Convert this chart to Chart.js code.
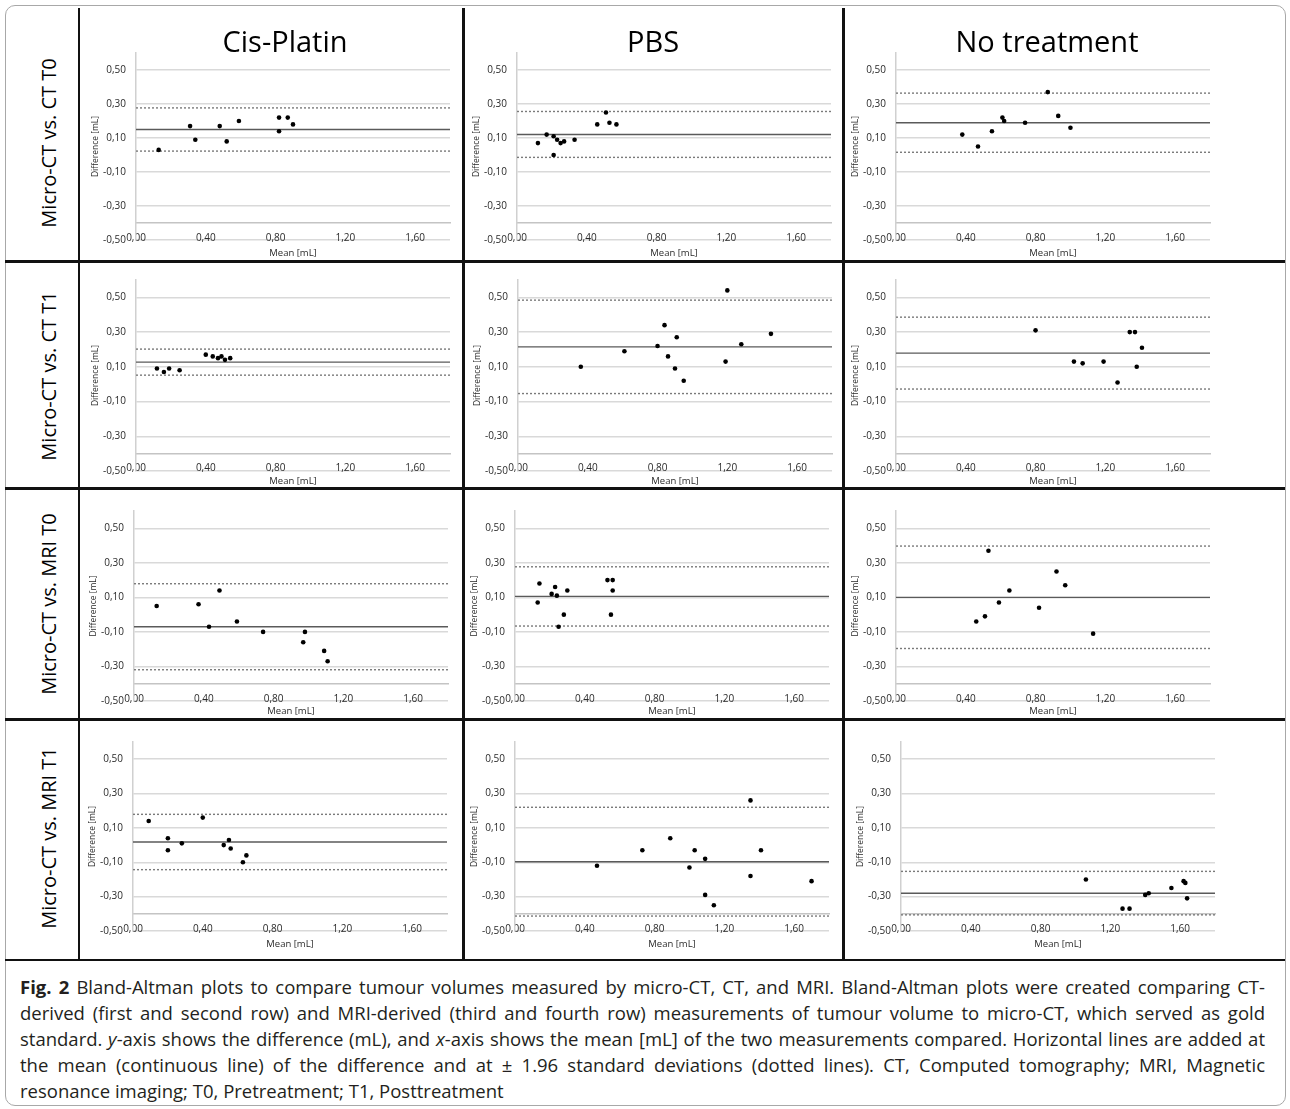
<!DOCTYPE html>
<html>
<head>
<meta charset="utf-8">
<script src="https://cdn.jsdelivr.net/npm/chart.js@4.4.1/dist/chart.umd.min.js"></script>
<style>
  body { margin: 0; background: #fff; font-family: 'Open Sans', sans-serif; }
  #fig { position: relative; width: 1290px; height: 1109px; overflow: hidden; }
  .frame { position: absolute; left: 5px; top: 5px; width: 1279px; height: 1099px; border: 1px solid #a8a8a8; border-radius: 10px; }
  .line { position: absolute; background: #111; }
  canvas { position: absolute; }
  .colhead { position: absolute; font-size: 29px; transform: translate(-50%, -50%); white-space: nowrap; color: #000; z-index: 2; }
  .rowhead { position: absolute; font-size: 20px; transform: translate(-50%, -50%) rotate(-90deg); white-space: nowrap; color: #000; }
  .caption { position: absolute; left: 20px; top: 974px; width: 1245px; font-size: 18.5px; line-height: 26px; color: #231f20; }
  .caption div { white-space: nowrap; text-align: justify; text-align-last: justify; }
  .caption div.last { text-align-last: left; }
</style>
</head>
<body>
<div id="fig">
  <div class="frame"></div>
  <div class="caption">
    <div><b>Fig. 2</b> Bland-Altman plots to compare tumour volumes measured by micro-CT, CT, and MRI. Bland-Altman plots were created comparing CT-</div>
    <div>derived (first and second row) and MRI-derived (third and fourth row) measurements of tumour volume to micro-CT, which served as gold</div>
    <div>standard. <i>y</i>-axis shows the difference (mL), and <i>x</i>-axis shows the mean [mL] of the two measurements compared. Horizontal lines are added at</div>
    <div>the mean (continuous line) of the difference and at ± 1.96 standard deviations (dotted lines). CT, Computed tomography; MRI, Magnetic</div>
    <div class="last">resonance imaging; T0, Pretreatment; T1, Posttreatment</div>
  </div>
</div>
<script>
const columns = ['Cis-Platin', 'PBS', 'No treatment'];
const rows = ['Micro-CT vs. CT T0', 'Micro-CT vs. CT T1', 'Micro-CT vs. MRI T0', 'Micro-CT vs. MRI T1'];
const xTicks = [0, 0.4, 0.8, 1.2, 1.6];
const yTicks = [-0.5, -0.3, -0.1, 0.1, 0.3, 0.5];

// micro-CT vs CT T0
const cisCtT0Mean = [0.13, 0.31, 0.34, 0.48, 0.52, 0.59, 0.82, 0.82, 0.87, 0.90];
const cisCtT0Diff = [0.03, 0.17, 0.09, 0.17, 0.08, 0.20, 0.22, 0.14, 0.22, 0.18];
const pbsCtT0Mean = [0.12, 0.17, 0.21, 0.21, 0.23, 0.25, 0.27, 0.33, 0.46, 0.51, 0.53, 0.57];
const pbsCtT0Diff = [0.07, 0.12, 0.11, 0.00, 0.09, 0.07, 0.08, 0.09, 0.18, 0.25, 0.19, 0.18];
const notCtT0Mean = [0.38, 0.47, 0.55, 0.61, 0.62, 0.74, 0.87, 0.93, 1.00];
const notCtT0Diff = [0.12, 0.05, 0.14, 0.22, 0.20, 0.19, 0.37, 0.23, 0.16];

// micro-CT vs CT T1
const cisCtT1Mean = [0.12, 0.16, 0.19, 0.25, 0.40, 0.44, 0.47, 0.49, 0.51, 0.54];
const cisCtT1Diff = [0.09, 0.07, 0.09, 0.08, 0.17, 0.16, 0.15, 0.16, 0.14, 0.15];
const pbsCtT1Mean = [0.36, 0.61, 0.80, 0.84, 0.86, 0.91, 0.90, 0.95, 1.19, 1.20, 1.28, 1.45];
const pbsCtT1Diff = [0.10, 0.19, 0.22, 0.34, 0.16, 0.27, 0.09, 0.02, 0.13, 0.54, 0.23, 0.29];
const notCtT1Mean = [0.80, 1.02, 1.07, 1.19, 1.27, 1.34, 1.37, 1.41, 1.38];
const notCtT1Diff = [0.31, 0.13, 0.12, 0.13, 0.01, 0.30, 0.30, 0.21, 0.10];

// micro-CT vs MRI T0
const cisMrT0Mean = [0.13, 0.37, 0.43, 0.49, 0.59, 0.74, 0.98, 0.97, 1.09, 1.11];
const cisMrT0Diff = [0.05, 0.06, -0.07, 0.14, -0.04, -0.10, -0.10, -0.16, -0.21, -0.27];
const pbsMrT0Mean = [0.13, 0.14, 0.21, 0.23, 0.24, 0.25, 0.28, 0.30, 0.53, 0.56, 0.56, 0.55];
const pbsMrT0Diff = [0.07, 0.18, 0.12, 0.16, 0.11, -0.07, 0.00, 0.14, 0.20, 0.20, 0.14, 0.00];
const notMrT0Mean = [0.46, 0.51, 0.53, 0.59, 0.65, 0.82, 0.92, 0.97, 1.13];
const notMrT0Diff = [-0.04, -0.01, 0.37, 0.07, 0.14, 0.04, 0.25, 0.17, -0.11];

// micro-CT vs MRI T1
const cisMrT1Mean = [0.09, 0.20, 0.20, 0.28, 0.40, 0.52, 0.55, 0.56, 0.65, 0.63];
const cisMrT1Diff = [0.14, 0.04, -0.03, 0.01, 0.16, 0.00, 0.03, -0.02, -0.06, -0.10];
const pbsMrT1Mean = [0.47, 0.73, 0.89, 1.03, 1.09, 1.00, 1.09, 1.14, 1.35, 1.35, 1.41, 1.70];
const pbsMrT1Diff = [-0.12, -0.03, 0.04, -0.03, -0.08, -0.13, -0.29, -0.35, 0.26, -0.18, -0.03, -0.21];
const notMrT1Mean = [1.06, 1.27, 1.31, 1.40, 1.42, 1.55, 1.62, 1.63, 1.64];
const notMrT1Diff = [-0.20, -0.37, -0.37, -0.29, -0.28, -0.25, -0.21, -0.22, -0.31];

// bias (mean difference) and limits of agreement, row by row
const biasMean = [0.150, 0.121, 0.190, 0.127, 0.215, 0.179, -0.070, 0.106, 0.100, 0.018, -0.097, -0.280];
const loaUpper = [0.277, 0.256, 0.364, 0.202, 0.484, 0.386, 0.179, 0.277, 0.397, 0.179, 0.220, -0.153];
const loaLower = [0.023, -0.014, 0.016, 0.052, -0.054, -0.028, -0.319, -0.066, -0.196, -0.143, -0.413, -0.406];

const panels = [
  [cisCtT0Mean, cisCtT0Diff], [pbsCtT0Mean, pbsCtT0Diff], [notCtT0Mean, notCtT0Diff],
  [cisCtT1Mean, cisCtT1Diff], [pbsCtT1Mean, pbsCtT1Diff], [notCtT1Mean, notCtT1Diff],
  [cisMrT0Mean, cisMrT0Diff], [pbsMrT0Mean, pbsMrT0Diff], [notMrT0Mean, notMrT0Diff],
  [cisMrT1Mean, cisMrT1Diff], [pbsMrT1Mean, pbsMrT1Diff], [notMrT1Mean, notMrT1Diff]
];

// layout of the grid
const plotLeft = [[136, 517, 896], [136, 518, 896], [134, 515, 896], [133, 515, 901]];
const plotTop = [42.5, 270, 500.5, 732];
const plotBottom = [240, 471, 701, 931.5];
const titleShift = [-5, -8, -8, -5];
const plotWidth = 314;
const headX = [285, 653, 1047];
const rowLabelY = [143, 376, 604, 838];

const fig = document.getElementById('fig');
const fmt = v => Number(v).toFixed(2).replace('.', ',');

function addLine(x, y, w, h) {
  const d = document.createElement('div');
  d.className = 'line';
  Object.assign(d.style, { left: x + 'px', top: y + 'px', width: w + 'px', height: h + 'px' });
  fig.appendChild(d);
}
addLine(78, 8, 1.5, 952);
addLine(462, 8, 3, 952);
addLine(842, 8, 3, 952);
[259.5, 487, 717.5].forEach(y => addLine(5, y, 1280, 3));
addLine(5, 959, 1280, 1.5);

columns.forEach((t, c) => {
  const d = document.createElement('div');
  d.className = 'colhead';
  d.textContent = t;
  d.style.left = headX[c] + 'px';
  d.style.top = '40px';
  fig.appendChild(d);
});
rows.forEach((t, r) => {
  const d = document.createElement('div');
  d.className = 'rowhead';
  d.textContent = t;
  d.style.left = '48px';
  d.style.top = rowLabelY[r] + 'px';
  fig.appendChild(d);
});

Chart.defaults.font.family = "'Open Sans', sans-serif";
Chart.defaults.color = '#2a2a2a';

const hline = (v, color, dash) => ({
  data: [{ x: 0, y: v }, { x: 1.8, y: v }],
  showLine: true,
  borderColor: color,
  borderWidth: 1.4,
  borderDash: dash,
  pointRadius: 0
});

panels.forEach(([means, diffs], i) => {
  const r = Math.floor(i / 3), c = i % 3;
  const left = plotLeft[r][c], top = plotTop[r], bottom = plotBottom[r];
  const cv = document.createElement('canvas');
  const padL = 60, padT = 6, padR = 6, padB = 30;
  cv.width = plotWidth + padL + padR;
  cv.height = bottom - top + padT + padB;
  cv.style.left = (left - padL) + 'px';
  cv.style.top = (top - padT) + 'px';
  fig.appendChild(cv);

  new Chart(cv, {
    type: 'scatter',
    data: {
      datasets: [
        {
          data: means.map((x, j) => ({ x, y: diffs[j] })),
          pointRadius: 2.3,
          pointBackgroundColor: '#000',
          pointBorderWidth: 0
        },
        hline(biasMean[i], '#5a5a5a', []),
        hline(loaUpper[i], '#7a7a7a', [2, 2]),
        hline(loaLower[i], '#7a7a7a', [2, 2])
      ]
    },
    options: {
      responsive: false,
      animation: false,
      events: [],
      layout: { padding: { left: padL - 46, top: padT, right: padR, bottom: padB } },
      plugins: { legend: { display: false }, tooltip: { enabled: false } },
      scales: {
        x: {
          type: 'linear',
          min: 0,
          max: 1.8,
          position: { y: -0.4 },
          afterBuildTicks: s => { s.ticks = xTicks.map(v => ({ value: v })); },
          grid: { drawOnChartArea: false, drawTicks: false },
          border: { display: true, color: '#c4c4c4', width: 1.5 },
          ticks: { padding: 9, font: { size: 10 }, maxRotation: 0, callback: fmt },
          title: { display: true, text: 'Mean [mL]', font: { size: 9.5 }, padding: { top: titleShift[r], bottom: 0 } }
        },
        y: {
          type: 'linear',
          min: -0.5,
          max: 0.6,
          afterBuildTicks: s => { s.ticks = yTicks.map(v => ({ value: v })); },
          afterFit: s => { s.width = 46; },
          grid: { color: '#d9d9d9', lineWidth: 1.5, drawTicks: false },
          border: { display: true, color: '#d0d0d0', width: 1.5 },
          ticks: { padding: 10, font: { size: 10 }, callback: fmt },
          title: { display: true, text: 'Difference [mL]', font: { size: 8.5 }, padding: { top: 0, bottom: 0 } }
        }
      }
    }
  });
});
</script>
</body>
</html>
